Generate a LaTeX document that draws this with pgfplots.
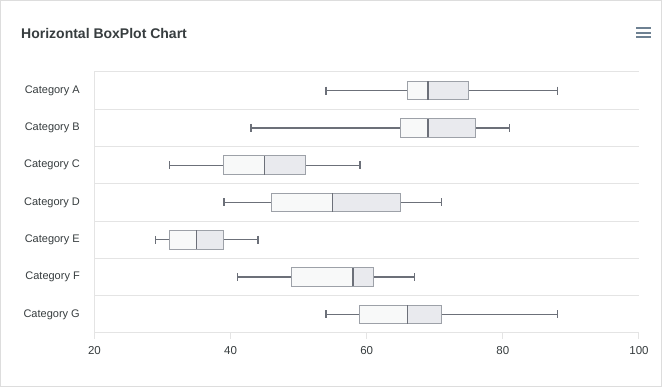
\documentclass[border=0pt]{standalone}
\usepackage{pgfplots}
\pgfplotsset{compat=1.18}
\usepackage{fontspec}
\setmainfont{Liberation Sans}
\definecolor{gridc}{HTML}{E4E4E4}
\definecolor{framec}{HTML}{DDDDDD}
\definecolor{boxstroke}{HTML}{9DA1A8}
\definecolor{whisk}{HTML}{6C7079}
\definecolor{medc}{HTML}{6C7079}
\definecolor{fillL}{HTML}{F8F9F9}
\definecolor{fillR}{HTML}{E9EAEE}
\definecolor{txt}{HTML}{373D3F}
\definecolor{menuc}{HTML}{6E8192}

% #1 y, #2 ylo, #3 yhi, #4 lower whisker, #5 Q1, #6 median, #7 Q3, #8 upper whisker
\newcommand{\bp}[8]{%
  \addplot[whisk, line width=1.4pt, mark=|, mark size=4pt, mark indices={1}, mark options={solid, line width=1.4pt}] coordinates {(#4,#1) (#5,#1)};
  \addplot[whisk, line width=1.4pt, mark=|, mark size=4pt, mark indices={2}, mark options={solid, line width=1.4pt}] coordinates {(#7,#1) (#8,#1)};
  \addplot[draw=boxstroke, fill=fillL, line width=1pt] coordinates {(#5,#2) (#6,#2) (#6,#3) (#5,#3)} -- cycle;
  \addplot[draw=boxstroke, fill=fillR, line width=1pt] coordinates {(#6,#2) (#7,#2) (#7,#3) (#6,#3)} -- cycle;
  \addplot[medc, line width=1.3pt] coordinates {(#6,#2) (#6,#3)};
}

\begin{document}
\begin{tikzpicture}
\useasboundingbox (-94.5pt,-54pt) rectangle (567.5pt,333pt);
\fill[white] (-94.5pt,-54pt) rectangle (567.5pt,333pt);
\draw[framec, line width=1pt] (-94pt,-53.5pt) rectangle (567pt,332.5pt);
\begin{axis}[
  at={(0pt,0pt)}, anchor=south west,
  scale only axis, width=544.5pt, height=261pt,
  xmin=20, xmax=100, ymin=-0.5, ymax=6.5,
  axis lines*=left,
  axis line style={draw=gridc, line width=1pt, -},
  xtick={20,40,60,80,100},
  ytick={0,1,2,3,4,5,6},
  yticklabels={Category G,Category F,Category E,Category D,Category C,Category B,Category A},
  minor ytick={-0.5,0.5,1.5,2.5,3.5,4.5,5.5,6.5},
  yminorgrids=true,
  minor grid style={draw=gridc, line width=1pt},
  tick align=outside,
  major tick length=6pt,
  minor tick length=0pt,
  xtick style={draw=gridc, line width=1pt},
  ytick style={draw=none},
  /pgf/number format/assume math mode=true,
  xticklabel style={font=\fontsize{11.5}{13}\selectfont, text=txt, anchor=north, inner sep=0pt, yshift=-7pt},
  yticklabel style={font=\fontsize{11}{13}\selectfont, text=txt, anchor=east, inner sep=0pt, xshift=-8.5pt},
  clip=false,
]
\bp{6}{5.75}{6.25}{54}{66}{69}{75}{88}
\bp{5}{4.75}{5.25}{43}{65}{69}{76}{81}
\bp{4}{3.75}{4.25}{31}{39}{45}{51}{59}
\bp{3}{2.75}{3.25}{39}{46}{55}{65}{71}
\bp{2}{1.75}{2.25}{29}{31}{35}{39}{44}
\bp{1}{0.75}{1.25}{41}{49}{58}{61}{67}
\bp{0}{-0.25}{0.25}{54}{59}{66}{71}{88}
\end{axis}
\node[anchor=base west, inner sep=0pt, text=txt, font=\fontsize{14}{17}\selectfont\bfseries] at (-73.5pt,294.5pt) {Horizontal BoxPlot Chart};
\draw[menuc, line width=1.7pt] (541.5pt,304.7pt) -- (556.8pt,304.7pt);
\draw[menuc, line width=1.7pt] (541.5pt,300.3pt) -- (556.8pt,300.3pt);
\draw[menuc, line width=1.7pt] (541.5pt,296pt) -- (556.8pt,296pt);
\end{tikzpicture}
\end{document}
